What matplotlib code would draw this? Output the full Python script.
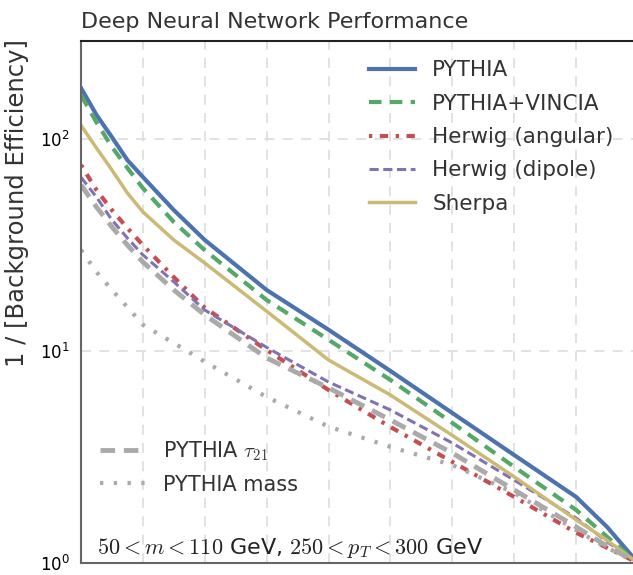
import numpy as np
import matplotlib
matplotlib.use("Agg")
import matplotlib.pyplot as plt

# signal efficiency grid and 1/(background efficiency)
sig_eff = [0.1, 0.125, 0.15, 0.175, 0.2, 0.25, 0.3, 0.4, 0.5, 0.6, 0.7, 0.8, 0.9, 0.95, 1.0]
pythia = [174, 130, 102, 79.5, 66.2, 46.2, 33.4, 19.4, 12.6, 8.05, 5.1, 3.23, 2.05, 1.48, 1.0]
vincia = [161, 120, 91.7, 73, 58.7, 40.6, 29.9, 17.4, 11.3, 7.3, 4.58, 2.84, 1.78, 1.33, 1.0]
herwig_ang = [75.4, 57.5, 46.2, 38, 31.6, 22.3, 16, 10.1, 6.55, 4.38, 3.0, 2.05, 1.39, 1.18, 1.0]
herwig_dip = [66, 53.2, 41.5, 34.1, 28.4, 21.2, 15.6, 10.4, 7.14, 5.27, 3.68, 2.46, 1.63, 1.26, 1.0]
sherpa = [116, 90.7, 71.4, 55.6, 45.3, 33.4, 26, 15.4, 9.07, 6.2, 4.0, 2.55, 1.6, 1.28, 1.0]
tau21 = [60.7, 47.8, 38.5, 31.6, 26.3, 19.4, 14.8, 9.27, 6.7, 4.73, 3.3, 2.21, 1.48, 1.2, 1.0]
mass = [30, 23.6, 19.4, 16.1, 13.3, 10.9, 8.9, 6.07, 4.4, 3.53, 2.9, 2.14, 1.43, 1.18, 1.0]

plt.rcParams['font.family'] = ['DejaVu Sans']
plt.rcParams['mathtext.fontset'] = 'cm'

fig = plt.figure(figsize=(6.33, 5.75), dpi=100)
ax = fig.add_axes([81/633, 12/575, 557/633, 522/575])

ax.plot(sig_eff, pythia, color='#4C72B0', lw=3, label='PYTHIA')
ax.plot(sig_eff, vincia, color='#55A868', lw=3, ls=(0, (3, 2)), label='PYTHIA+VINCIA')
ax.plot(sig_eff, herwig_ang, color='#C44E52', lw=3, ls=(0, (0.8, 1.8, 2, 1.8)), label='Herwig (angular)')
ax.plot(sig_eff, herwig_dip, color='#8172B2', lw=2.2, ls=(0, (3, 1.5)), label='Herwig (dipole)')
ax.plot(sig_eff, sherpa, color='#CCB974', lw=2.5, label='Sherpa')
l1, = ax.plot(sig_eff, tau21, color='#aaaaaa', lw=3.5, ls=(0, (3, 1.8)), label=r'PYTHIA $\tau_{21}$')
l2, = ax.plot(sig_eff, mass, color='#aaaaaa', lw=3, ls=(0, (0.8, 2.5)), label='PYTHIA mass')

ax.set_yscale('log')
ax.set_xlim(0.1, 1.0)
ax.set_ylim(1, 290)
ax.set_xticks(np.arange(0.2, 1.0, 0.1))
ax.set_xticklabels([])
ax.tick_params(length=0, labelsize=12, pad=8)
ax.yaxis.set_minor_locator(matplotlib.ticker.NullLocator())
ax.grid(True, ls=(0, (6, 5)), color='#dddddd', lw=1.2)

for s in ['left', 'bottom']:
    ax.spines[s].set_color('#666666')
    ax.spines[s].set_linewidth(1.5)
ax.spines['top'].set_color('#222222')
ax.spines['top'].set_linewidth(1.5)
ax.spines['right'].set_visible(False)

ax.set_ylabel('1 / [Background Efficiency]', fontsize=17.5, color='#333333')
ax.yaxis.set_label_coords(-0.093, 0.69)
ax.set_title('Deep Neural Network Performance', loc='left', fontsize=16, color='#333333', pad=9)

handles, labels = ax.get_legend_handles_labels()
leg1 = ax.legend(handles[:5], labels[:5], loc='upper left', bbox_to_anchor=(0.482, 1.0),
                 frameon=False, fontsize=15.5, handlelength=2.15, handletextpad=0.8,
                 labelspacing=0.62, labelcolor='#333333')
ax.add_artist(leg1)
ax.legend([l1, l2], [r'PYTHIA $\tau_{21}$', 'PYTHIA mass'], loc='upper left',
          bbox_to_anchor=(0.0, 0.272), frameon=False, fontsize=15, handlelength=2.2,
          handletextpad=0.85, labelspacing=0.55, labelcolor='#333333')

ax.text(0.028, 0.029, r'$50 < m < 110$ GeV, $250 < p_T < 300$ GeV', transform=ax.transAxes,
        fontsize=16, color='#222222', ha='left', va='center')

fig.savefig('out.png', dpi=100)
